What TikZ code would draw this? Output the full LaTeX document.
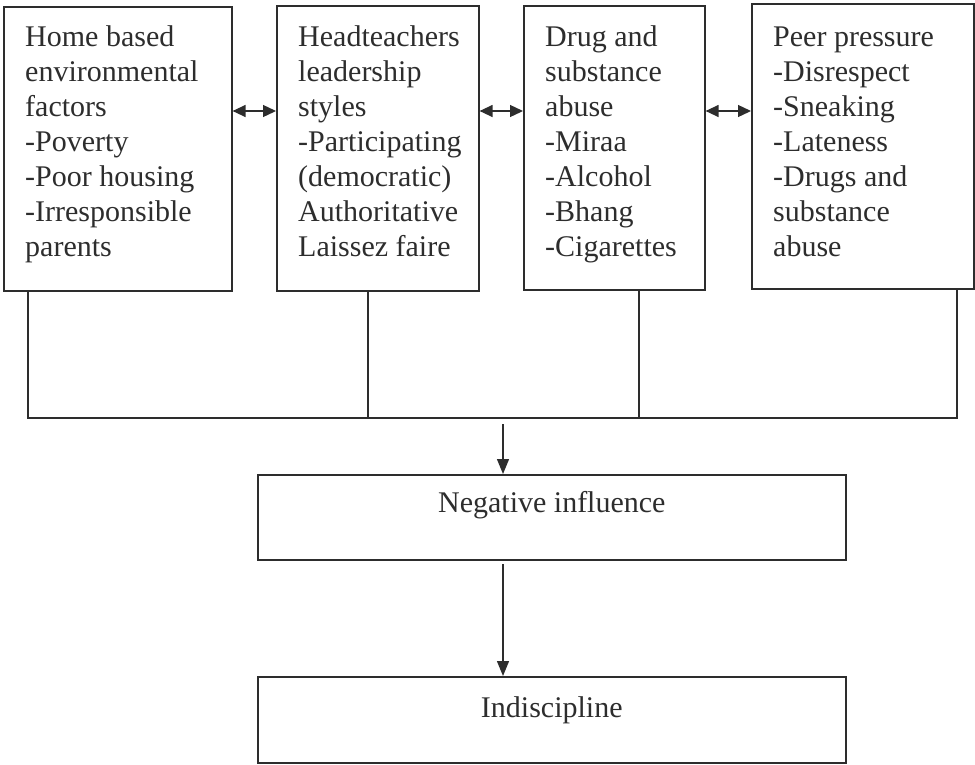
\documentclass[tikz,border=0pt]{standalone}
\usepackage{fontspec}
\setmainfont{Liberation Serif}
\usetikzlibrary{arrows.meta,calc}
\definecolor{ink}{RGB}{45,45,45}
\begin{document}
\begin{tikzpicture}[x=1pt,y=1pt,
  box/.style={draw=ink, line width=1.6pt, rectangle, inner sep=0pt, anchor=north west},
  txt/.style={anchor=north west, inner sep=0pt, align=left, text=ink,
              font=\fontsize{30}{35}\selectfont},
  ctxt/.style={text=ink, font=\fontsize{30}{35}\selectfont},
  wire/.style={draw=ink, line width=1.3pt},
  arr/.style={wire, -{Triangle[length=15pt,width=12pt]}},
  dbl/.style={wire, {Triangle[length=13pt,width=12pt]}-{Triangle[length=13pt,width=12pt]}}
]
\useasboundingbox (0,0) rectangle (975,-764);

% top boxes
\node[box, minimum width=228pt, minimum height=284pt] (b1) at (3,-6) {};
\node[box, minimum width=202pt, minimum height=285pt] (b2) at (276,-5) {};
\node[box, minimum width=181pt, minimum height=284pt] (b3) at (523,-5) {};
\node[box, minimum width=222pt, minimum height=285pt] (b4) at (751,-3) {};

\node[txt] (t1) at (25,-21.5) {\strut Home based\\environmental\\factors\\-Poverty\\-Poor housing\\-Irresponsible\\parents};
\node[txt] (t2) at (298,-21.5) {\strut Headteachers\\leadership\\styles\\-Participating\\(democratic)\\Authoritative\\Laissez faire};
\node[txt] (t3) at (545,-21.5) {\strut Drug and\\substance\\abuse\\-Miraa\\-Alcohol\\-Bhang\\-Cigarettes};
\node[txt] (t4) at (773,-21.5) {\strut Peer pressure\\-Disrespect\\-Sneaking\\-Lateness\\-Drugs and\\substance\\abuse};

% double arrows between boxes
\coordinate (r) at (0,-111);
\draw[dbl] (b1.east |- r) -- (b2.west |- r);
\draw[dbl] (b2.east |- r) -- (b3.west |- r);
\draw[dbl] (b3.east |- r) -- (b4.west |- r);

% bus
\coordinate (j1) at (28,-418);
\coordinate (j2) at (368,-418);
\coordinate (j3) at (639,-418);
\coordinate (j4) at (957,-418);
\draw[wire] (j1 |- b1.south) -- (j1) -- (j4) -- (j4 |- b4.south);
\draw[wire] (j2 |- b2.south) -- (j2);
\draw[wire] (j3 |- b3.south) -- (j3);

% lower boxes
\node[box, minimum width=588pt, minimum height=85pt, ctxt, anchor=north west,
      text height=21pt, text depth=30pt] (neg) at (257,-474) {Negative influence};
\node[box, minimum width=588pt, minimum height=86pt, ctxt, anchor=north west,
      text height=21pt, text depth=26pt] (ind) at (257,-676) {Indiscipline};

\coordinate (a1) at (503,-424);
\coordinate (a2) at (503,-564);
\draw[arr] (a1) -- (a1 |- neg.north);
\draw[arr] (a2) -- (a2 |- ind.north);
\end{tikzpicture}
\end{document}
